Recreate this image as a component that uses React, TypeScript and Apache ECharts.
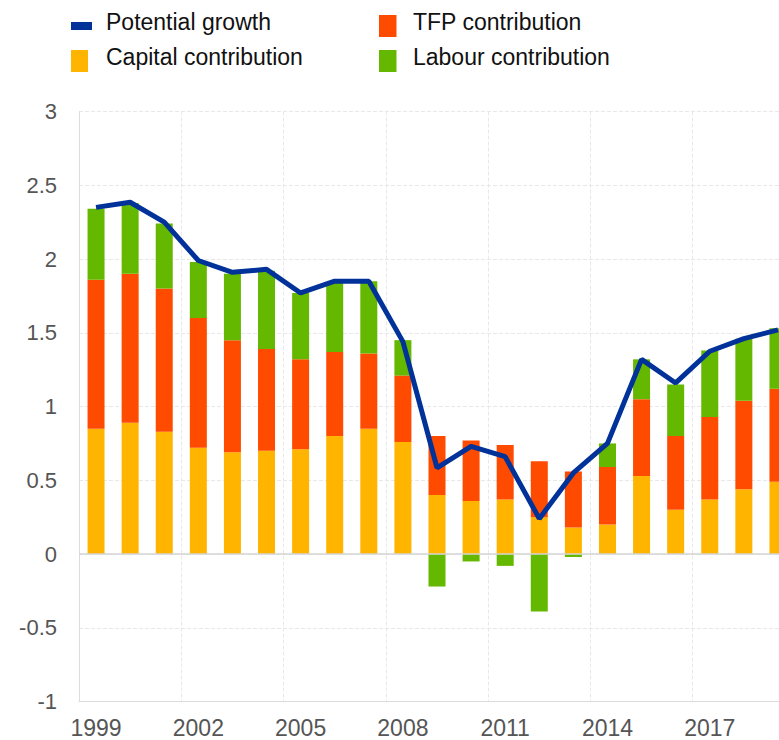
import React, { useEffect, useRef } from "react";
import * as echarts from "echarts";

const years = ["1999","2000","2001","2002","2003","2004","2005","2006","2007","2008","2009","2010","2011","2012","2013","2014","2015","2016","2017","2018","2019"];
const capital = [0.85,0.89,0.83,0.72,0.69,0.70,0.71,0.80,0.85,0.76,0.40,0.36,0.37,0.25,0.18,0.20,0.53,0.30,0.37,0.44,0.49];
const tfp = [1.01,1.01,0.97,0.88,0.76,0.69,0.61,0.57,0.51,0.45,0.40,0.41,0.37,0.38,0.38,0.39,0.52,0.50,0.56,0.60,0.63];
const labour = [0.48,0.48,0.44,0.38,0.45,0.53,0.45,0.47,0.49,0.24,-0.22,-0.05,-0.08,-0.39,-0.02,0.16,0.27,0.35,0.45,0.42,0.41];
const potential = [2.35,2.385,2.25,1.99,1.91,1.93,1.77,1.85,1.85,1.44,0.585,0.73,0.66,0.24,0.55,0.75,1.32,1.16,1.375,1.46,1.52];

const names = ["Potential growth", "TFP contribution", "Capital contribution", "Labour contribution"];
const colors = { blue: "#003299", red: "#FF4B00", yellow: "#FFB400", green: "#65B800" };
const FONT = "Liberation Sans, Arial, sans-serif";

export default function App() {
  const ref = useRef<HTMLDivElement>(null);
  useEffect(() => {
    if (!ref.current) return;
    const chart = echarts.init(ref.current, null, { renderer: "svg" });
    const legendText = (text: string, x: number, y: number) => ({
      type: "text", x, y,
      style: { text, fill: "#111", font: `23px ${FONT}`, verticalAlign: "middle", align: "left" },
    });
    chart.setOption({
      animation: false,
      backgroundColor: "#fff",
      grid: { left: 79, right: 0, top: 111.5, bottom: 38.4, containLabel: false },
      graphic: [
        { type: "rect", shape: { x: 71, y: 22, width: 21, height: 8 }, style: { fill: colors.blue } },
        legendText(names[0], 106, 22),
        { type: "rect", shape: { x: 379, y: 15, width: 17.5, height: 22 }, style: { fill: colors.red } },
        legendText(names[1], 413, 22),
        { type: "rect", shape: { x: 71, y: 50, width: 17, height: 22 }, style: { fill: colors.yellow } },
        legendText(names[2], 106, 57),
        { type: "rect", shape: { x: 379, y: 50, width: 17.5, height: 22 }, style: { fill: colors.green } },
        legendText(names[3], 413, 57),
      ],
      xAxis: {
        type: "category",
        data: years,
        boundaryGap: true,
        axisLine: { show: true, onZero: false, lineStyle: { color: "#dcdcdc", width: 1 } },
        axisTick: { show: false },
        axisLabel: { interval: 2, margin: 15, color: "#555", fontSize: 23, fontFamily: FONT },
        splitLine: { show: true, interval: 2, lineStyle: { color: "#e8e8e8", type: "dashed", width: 1 } },
      },
      yAxis: {
        type: "value",
        min: -1,
        max: 3,
        interval: 0.5,
        axisLine: { show: true, lineStyle: { color: "#dcdcdc", width: 1 } },
        axisTick: { show: false },
        axisLabel: { margin: 22, color: "#555", fontSize: 22, fontFamily: FONT },
        splitLine: { show: true, lineStyle: { color: "#e8e8e8", type: "dashed", width: 1 } },
      },
      series: [
        {
          name: names[2], type: "bar", stack: "c", data: capital, barWidth: 17,
          itemStyle: { color: colors.yellow },
          markLine: {
            silent: true, symbol: "none", label: { show: false },
            lineStyle: { color: "#d4d4d4", type: "solid", width: 1.5 },
            data: [{ yAxis: 0 }],
          },
        },
        { name: names[1], type: "bar", stack: "c", data: tfp, barWidth: 17, itemStyle: { color: colors.red } },
        { name: names[3], type: "bar", stack: "c", data: labour, barWidth: 17, itemStyle: { color: colors.green } },
        {
          name: names[0], type: "line", data: potential, showSymbol: false, symbol: "none", z: 10,
          lineStyle: { color: colors.blue, width: 5 }, itemStyle: { color: colors.blue },
        },
      ],
    });
    return () => chart.dispose();
  }, []);
  return (
    <div style={{ position: "fixed", left: 0, top: 0, width: 779, height: 740, overflow: "hidden", background: "#fff" }}>
      <div ref={ref} style={{ width: 795, height: 740 }} />
    </div>
  );
}
